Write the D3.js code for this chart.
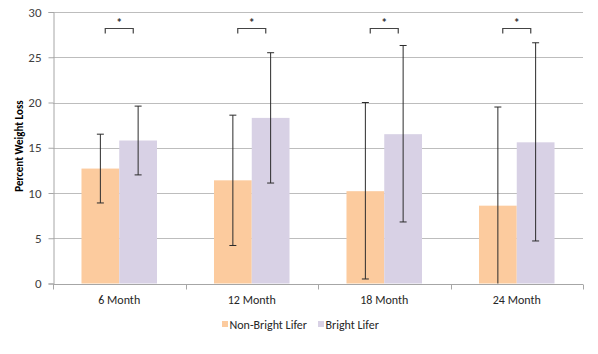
<!DOCTYPE html>
<html>
<head>
<meta charset="utf-8">
<script src="https://cdn.jsdelivr.net/npm/d3@7"></script>
<style>
  body { margin: 0; background: #fff; }
  text { font-family: Carlito, Lato, "Open Sans", sans-serif; }
</style>
</head>
<body>
<script>
// chart data
var months = ["6 Month", "12 Month", "18 Month", "24 Month"];
var groups = ["Non-Bright Lifer", "Bright Lifer"];
var nonBright = [12.7, 11.4, 10.2, 8.6];
var nonBrightLow = [8.9, 4.2, 0.5, 0];
var nonBrightHigh = [16.5, 18.6, 20.0, 19.5];
var bright = [15.8, 18.3, 16.5, 15.6];
var brightLow = [12.0, 11.1, 6.8, 4.7];
var brightHigh = [19.6, 25.5, 26.3, 26.6];
var yTicks = [0, 5, 10, 15, 20, 25, 30];
var sigLevel = 28.2;

var width = 598, height = 354;
var plotLeft = 53, plotRight = 583, plotTop = 12, plotBottom = 283.5;
var colors = ["#fccb9e", "#d8d1e5"];

var svg = d3.select("body")
	.append("svg")
	.attr("width", width)
	.attr("height", height);

var x0 = d3.scaleBand()
	.domain(months)
	.range([plotLeft, plotRight])
	.paddingInner(0.43)
	.paddingOuter(0.215);

var x1 = d3.scaleBand()
	.domain(groups)
	.range([0, x0.bandwidth()]);

var y = d3.scaleLinear()
	.domain([0, 30])
	.range([plotBottom, plotTop]);

// gridlines
svg.append("g")
	.selectAll("line")
	.data(yTicks.slice(1))
	.enter()
	.append("line")
	.attr("x1", plotLeft)
	.attr("x2", plotRight)
	.attr("y1", function(d){ return Math.round(y(d)) + 0.5; })
	.attr("y2", function(d){ return Math.round(y(d)) + 0.5; })
	.attr("stroke", "#bdbdbd")
	.attr("stroke-width", 1);

// y axis
var yAxis = svg.append("g")
	.attr("transform", "translate(" + (plotLeft + 0.5) + ",0)")
	.call(d3.axisLeft(y).tickValues(yTicks).tickSize(5).tickPadding(7));
yAxis.select(".domain").attr("stroke", "#a6a6a6");
yAxis.selectAll(".tick line").attr("stroke", "#a6a6a6");
yAxis.selectAll(".tick text")
	.attr("fill", "#404040")
	.style("font-size", "13px")
	.style("font-family", "Carlito, Lato, sans-serif");

// bars
var rows = months.map(function(m, i){
	return [
		{m: m, g: groups[0], v: nonBright[i], lo: nonBrightLow[i], hi: nonBrightHigh[i], c: colors[0]},
		{m: m, g: groups[1], v: bright[i], lo: brightLow[i], hi: brightHigh[i], c: colors[1]}
	];
});
var flat = [].concat.apply([], rows);

svg.append("g")
	.selectAll("rect")
	.data(flat)
	.enter()
	.append("rect")
	.attr("x", function(d){ return x0(d.m) + x1(d.g); })
	.attr("y", function(d){ return y(d.v); })
	.attr("width", x1.bandwidth())
	.attr("height", function(d){ return y(0) - y(d.v); })
	.attr("fill", function(d){ return d.c; });

// x axis
var xAxis = svg.append("g")
	.attr("transform", "translate(0," + (Math.round(plotBottom) + 0.5) + ")");
xAxis.append("line")
	.attr("x1", plotLeft)
	.attr("x2", plotRight)
	.attr("stroke", "#a6a6a6");
xAxis.selectAll(".tk")
	.data([0, 1, 2, 3, 4])
	.enter()
	.append("line")
	.attr("x1", function(d){ return Math.round(plotLeft + d * x0.step()) + 0.5; })
	.attr("x2", function(d){ return Math.round(plotLeft + d * x0.step()) + 0.5; })
	.attr("y1", 0)
	.attr("y2", 5)
	.attr("stroke", "#a6a6a6");
xAxis.selectAll("text")
	.data(months)
	.enter()
	.append("text")
	.attr("x", function(d){ return x0(d) + x0.bandwidth() / 2; })
	.attr("y", 19)
	.attr("text-anchor", "middle")
	.attr("fill", "#262626")
	.style("font-size", "12px")
	.text(function(d){ return d; });

// error bars
var eb = svg.append("g")
	.selectAll("g")
	.data(flat)
	.enter()
	.append("g")
	.attr("stroke", "#2b2b2b")
	.attr("stroke-width", 1);
eb.append("line")
	.attr("x1", function(d){ return x0(d.m) + x1(d.g) + x1.bandwidth() / 2; })
	.attr("x2", function(d){ return x0(d.m) + x1(d.g) + x1.bandwidth() / 2; })
	.attr("y1", function(d){ return y(d.lo); })
	.attr("y2", function(d){ return y(d.hi); });
eb.append("line")
	.attr("x1", function(d){ return x0(d.m) + x1(d.g) + x1.bandwidth() / 2 - 3.5; })
	.attr("x2", function(d){ return x0(d.m) + x1(d.g) + x1.bandwidth() / 2 + 3.5; })
	.attr("y1", function(d){ return y(d.hi); })
	.attr("y2", function(d){ return y(d.hi); });
eb.filter(function(d){ return d.lo > 0; })
	.append("line")
	.attr("x1", function(d){ return x0(d.m) + x1(d.g) + x1.bandwidth() / 2 - 3.5; })
	.attr("x2", function(d){ return x0(d.m) + x1(d.g) + x1.bandwidth() / 2 + 3.5; })
	.attr("y1", function(d){ return y(d.lo); })
	.attr("y2", function(d){ return y(d.lo); });

// significance brackets
var sig = svg.append("g")
	.selectAll("g")
	.data(months)
	.enter()
	.append("g");
sig.append("path")
	.attr("d", function(d){
		var cx = x0(d) + x0.bandwidth() / 2;
		var yy = Math.round(y(sigLevel)) + 0.5;
		return "M" + (cx - 14) + "," + (yy + 5) + "V" + yy + "H" + (cx + 14) + "V" + (yy + 5);
	})
	.attr("fill", "none")
	.attr("stroke", "#444")
	.attr("stroke-width", 1.2);
sig.append("text")
	.attr("x", function(d){ return x0(d) + x0.bandwidth() / 2; })
	.attr("y", y(sigLevel) - 1)
	.attr("text-anchor", "middle")
	.attr("font-weight", "bold")
	.attr("fill", "#333")
	.style("font-size", "12px")
	.text("*");

// y label
svg.append("text")
	.attr("transform", "translate(23,146) rotate(-90)")
	.attr("text-anchor", "middle")
	.attr("font-weight", "bold")
	.attr("fill", "#000")
	.style("font-size", "11px")
	.text("Percent Weight Loss");

// legend
var legendX = [222, 318];
var lg = svg.append("g")
	.selectAll("g")
	.data(groups)
	.enter()
	.append("g")
	.attr("transform", function(d, i){ return "translate(" + legendX[i] + ",320)"; });
lg.append("rect")
	.attr("width", 6)
	.attr("height", 6)
	.attr("y", 1)
	.attr("fill", function(d, i){ return colors[i]; });
lg.append("text")
	.attr("x", 7.5)
	.attr("y", 9)
	.attr("fill", "#262626")
	.style("font-size", "12px")
	.text(function(d){ return d; });
</script>
</body>
</html>
